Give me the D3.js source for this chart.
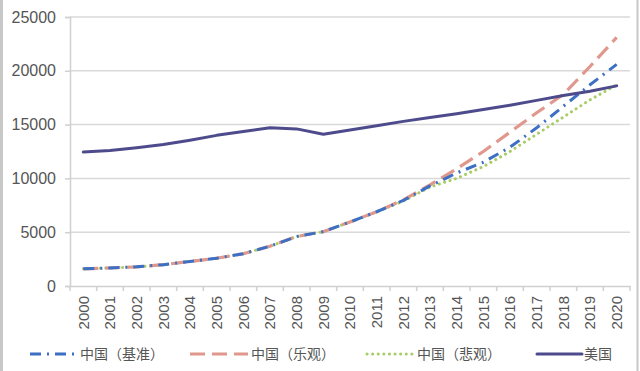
<!DOCTYPE html>
<html><head><meta charset="utf-8">
<script src="https://cdn.jsdelivr.net/npm/d3@7"></script>
<style>body{margin:0;background:#fff;}svg{display:block;font-family:"Liberation Sans","Noto Sans CJK SC",sans-serif;}</style>
</head><body>
<svg id="c" width="640" height="371"></svg>
<script>
const years = ["2000","2001","2002","2003","2004","2005","2006","2007","2008","2009","2010","2011","2012","2013","2014","2015","2016","2017","2018","2019","2020"];
const chinaBase = [1600,1680,1780,1980,2280,2580,3000,3700,4600,5050,5950,6900,7950,9300,10500,11500,12900,14700,16700,18700,20600];
const chinaOpt  = [1600,1680,1780,1980,2280,2580,3000,3700,4600,5050,5950,6900,8000,9400,10900,12500,14300,16100,17800,20400,23100];
const chinaPess = [1600,1680,1780,1980,2280,2580,3000,3700,4600,5050,5950,6900,7900,9200,10000,11100,12500,14100,15700,17300,18700];
const usa = [12450,12600,12850,13150,13550,14000,14350,14700,14600,14100,14500,14900,15300,15650,16000,16400,16800,17250,17700,18100,18600];
const yTicks = [0,5000,10000,15000,20000,25000];
const seriesNames = ["中国（基准）","中国（乐观）","中国（悲观）","美国"];

(function(){
const svg = d3.select("#c");
const mLeft = 70, mRight = 630, mTop = 17, mBottom = 286;
const x = d3.scaleBand().domain(years).range([mLeft, mRight]);
const y = d3.scaleLinear().domain([0,25000]).range([mBottom, mTop]);

// frame borders
svg.append("line").attr("x1",1.5).attr("x2",1.5).attr("y1",0).attr("y2",371).attr("stroke","#c8c8c8").attr("stroke-width",3);
svg.append("line").attr("x1",637.5).attr("x2",637.5).attr("y1",0).attr("y2",371).attr("stroke","#c8c8c8").attr("stroke-width",2);

// grid
svg.append("g").selectAll("line").data(yTicks.filter(d=>d>0)).join("line")
  .attr("x1",mLeft).attr("x2",mRight).attr("y1",d=>y(d)).attr("y2",d=>y(d))
  .attr("stroke","#d9d9d9").attr("stroke-width",1.5);

// y axis
const ya = svg.append("g").attr("transform",`translate(${mLeft},0)`)
  .call(d3.axisLeft(y).tickValues(yTicks).tickSize(5).tickPadding(9).tickFormat(d3.format("d")));
ya.selectAll("path,line").attr("stroke","#d0d0d0").attr("stroke-width",1.5);
ya.selectAll("text").attr("font-size",16).attr("fill","#555");

// x axis
const xa = svg.append("g").attr("transform",`translate(0,${mBottom})`)
  .call(d3.axisBottom(x).tickSize(0).tickPadding(0));
xa.select("path").attr("stroke","#d0d0d0").attr("stroke-width",1.5);
xa.selectAll("text").attr("font-size",15).attr("fill","#555")
  .attr("text-anchor","end").attr("dx","-10px").attr("dy","0.35em")
  .attr("x",0).attr("y",0)
  .attr("transform","rotate(-90)");
// category boundary ticks
svg.append("g").selectAll("line").data(d3.range(years.length+1)).join("line")
  .attr("x1",i=>mLeft+i*x.step()).attr("x2",i=>mLeft+i*x.step())
  .attr("y1",mBottom).attr("y2",mBottom+5).attr("stroke","#d0d0d0").attr("stroke-width",1.5);

const line = d3.line().x((d,i)=>x(years[i])+x.bandwidth()/2).y(d=>y(d)).curve(d3.curveLinear);
const styles = [
  {data:chinaBase, color:"#3d6fc4", dash:"11,6,2,6", cap:"butt", w:3},
  {data:chinaOpt, color:"#e0978c", dash:"15,7", cap:"butt", w:3.2},
  {data:chinaPess, color:"#a8cc66", dash:"0.1,5.5", cap:"round", w:3},
  {data:usa, color:"#4e4b8c", dash:null, cap:"round", w:3}
];
[2,1,0,3].forEach(k=>{
  const s = styles[k];
  svg.append("path").attr("d",line(s.data)).attr("fill","none")
    .attr("stroke",s.color).attr("stroke-width",s.w).attr("stroke-linecap",s.cap)
    .attr("stroke-linejoin","round").attr("stroke-dasharray",s.dash);
});

// legend
const leg = [
  {x1:30,x2:78,tx:80},
  {x1:190,x2:248,tx:251},
  {x1:367,x2:412,tx:417},
  {x1:537,x2:582,tx:584}
];
const ly = 354;
leg.forEach((L,k)=>{
  const s = styles[k];
  svg.append("line").attr("x1",L.x1).attr("x2",L.x2).attr("y1",ly).attr("y2",ly)
    .attr("stroke",s.color).attr("stroke-width",s.w).attr("stroke-linecap",s.cap)
    .attr("stroke-dasharray",s.dash);
  svg.append("text").attr("x",L.tx).attr("y",ly).attr("dy","0.36em")
    .attr("font-size",14).attr("fill","#555").text(seriesNames[k]);
});
})();
</script>
</body></html>
